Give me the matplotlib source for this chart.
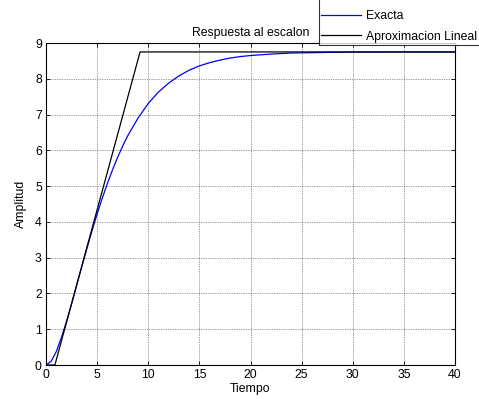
import matplotlib
matplotlib.use("Agg")
import matplotlib.pyplot as plt

plt.rcParams['font.family'] = ['Liberation Sans', 'DejaVu Sans']

# Exact step response
t_exact = [0, 0.5, 1, 1.5, 2, 2.5, 3, 3.5, 4, 4.5, 5, 5.5, 6, 6.5, 7, 7.5, 8, 9, 10,
           11, 12, 13, 14, 15, 16, 17, 18, 19, 20, 22, 24, 26, 28, 30, 35, 40]
y_exact = [0, 0.10, 0.37, 0.76, 1.21, 1.71, 2.23, 2.75, 3.26, 3.75, 4.22, 4.66, 5.07,
           5.45, 5.80, 6.12, 6.41, 6.90, 7.31, 7.63, 7.88, 8.08, 8.24, 8.36, 8.45, 8.52,
           8.58, 8.62, 8.65, 8.69, 8.72, 8.73, 8.74, 8.745, 8.75, 8.75]

# Linear approximation
t_lin = [0, 0.87, 9.2, 40]
y_lin = [0, 0, 8.75, 8.75]

title = "Respuesta al escalon"
xlabel = "Tiempo"
ylabel = "Amplitud"
labels = ["Exacta", "Aproximacion Lineal"]
xticks = [0, 5, 10, 15, 20, 25, 30, 35, 40]
yticks = [0, 1, 2, 3, 4, 5, 6, 7, 8, 9]

fs = 8.8
fig = plt.figure(figsize=(4.79, 3.99), dpi=100)
ax = fig.add_axes([46/479, 1-365/399, (455-46)/479, (365-43)/399])

l1, = ax.plot(t_exact, y_exact, color='#0000ff', lw=0.9, label=labels[0])
l2, = ax.plot(t_lin, y_lin, color='black', lw=0.9, label=labels[1])

ax.set_xlim(0, 40)
ax.set_ylim(0, 9)
ax.set_xticks(xticks)
ax.set_yticks(yticks)
ax.tick_params(direction='in', top=True, right=True, length=3, width=0.6,
               labelsize=fs, pad=3, colors='black')
ax.grid(True, color='#404040', linestyle=(0, (1, 1.5)), linewidth=0.5)
for s in ax.spines.values():
    s.set_linewidth(0.8)

ax.set_title(title, fontsize=fs, pad=5)
ax.set_xlabel(xlabel, fontsize=fs, labelpad=1)
ax.set_ylabel(ylabel, fontsize=fs, labelpad=6)

leg = fig.legend(handles=[l1, l2], labels=labels, loc='lower left',
                 bbox_to_anchor=(319/479, 1-45/399), fontsize=fs,
                 title=" ", title_fontsize=fs,
                 frameon=True, fancybox=False, edgecolor='black',
                 handlelength=3.2, handletextpad=0.45, labelspacing=0.7,
                 borderpad=0.2, borderaxespad=0)
leg.get_frame().set_linewidth(0.8)

fig.savefig("out.png", dpi=100)
